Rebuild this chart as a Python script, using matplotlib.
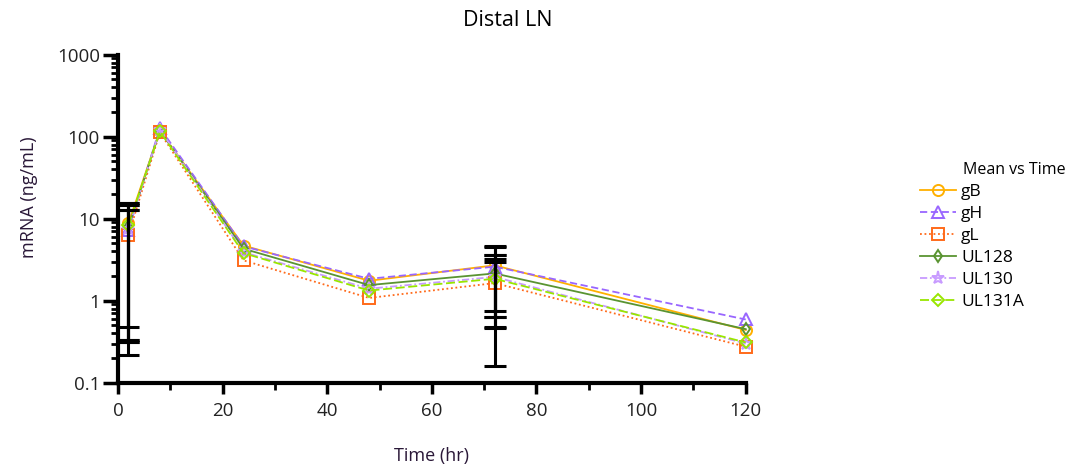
import numpy as np
import matplotlib
matplotlib.use("Agg")
import matplotlib.pyplot as plt
from matplotlib.ticker import FuncFormatter, MultipleLocator

plt.rcParams['font.family'] = ['Open Sans', 'DejaVu Sans']

time = [2, 8, 24, 48, 72, 120]
series = ["gB", "gH", "gL", "UL128", "UL130", "UL131A"]

gB = [8.8, 118, 4.7, 1.75, 2.7, 0.44]
gH = [7.2, 128, 4.6, 1.85, 2.6, 0.59]
gL = [6.3, 113, 3.1, 1.08, 1.64, 0.275]
UL128 = [7.9, 118, 4.3, 1.55, 2.15, 0.45]
UL130 = [7.5, 122, 3.9, 1.4, 1.95, 0.30]
UL131A = [8.3, 116, 3.8, 1.33, 1.85, 0.31]

# error bar limits (only at 2 h and 72 h)
err_time = [2, 72]
gB_lo, gB_hi = [0.48, 0.756], [15.5, 4.62]
gH_lo, gH_hi = [0.333, 0.64], [12.9, 4.55]
gL_lo, gL_hi = [0.219, 0.158], [12.9, 2.98]
UL128_lo, UL128_hi = [0.315, 0.64], [14.6, 3.59]
UL130_lo, UL130_hi = [0.315, 0.48], [14.6, 3.59]
UL131A_lo, UL131A_hi = [0.333, 0.466], [15.5, 3.21]

means = [gB, gH, gL, UL128, UL130, UL131A]
lows = [gB_lo, gH_lo, gL_lo, UL128_lo, UL130_lo, UL131A_lo]
highs = [gB_hi, gH_hi, gL_hi, UL128_hi, UL130_hi, UL131A_hi]

colors = ["#FFB000", "#9966FF", "#FF6A1A", "#5A9432", "#C89BFF", "#99E600"]
styles = ["-", (0, (4, 2)), (0, (1, 1.5)), "-", (0, (4, 1.5, 1, 1.5)), (0, (5, 2))]
markers = ["o", "^", "s", "d", "*", "D"]
msizes = [8, 8, 8, 6, 9.5, 6]

fig = plt.figure(figsize=(10.73, 4.70), dpi=100)
ax = fig.add_axes([0.110, 0.1857, 0.585, 0.698])
ax.set_yscale("log")

handles = []
for name, m, c, ls, mk, ms in zip(series, means, colors, styles, markers, msizes):
    h, = ax.plot(time, m, color=c, linestyle=ls, linewidth=1.3, marker=mk,
                 markersize=ms, markerfacecolor="none", markeredgecolor=c,
                 markeredgewidth=1.4, label=name, clip_on=False, zorder=2)
    handles.append(h)

for m, lo, hi in zip(means, lows, highs):
    mv = np.array([m[time.index(t)] for t in err_time])
    yerr = [mv - np.array(lo), np.array(hi) - mv]
    ax.errorbar(err_time, mv, yerr=yerr, fmt="none", ecolor="black",
                elinewidth=2.2, capsize=8, capthick=2.2, zorder=3, clip_on=False)

ax.set_xlim(0, 120)
ax.set_ylim(0.1, 1000)
ax.xaxis.set_major_locator(MultipleLocator(20))
ax.xaxis.set_minor_locator(MultipleLocator(10))
ax.yaxis.set_major_formatter(FuncFormatter(lambda v, p: "%g" % v))

for s in ["top", "right"]:
    ax.spines[s].set_visible(False)
for s in ["left", "bottom"]:
    ax.spines[s].set_linewidth(3)
ax.tick_params(axis="both", which="major", length=11, width=2.5, labelsize=13.5,
               colors="black", labelcolor="#222222")
ax.tick_params(axis="both", which="minor", length=5, width=2)
ax.tick_params(axis="x", which="major", length=8, pad=6)
ax.tick_params(axis="y", which="major", pad=2)

fig.text(508 / 1073, 1 - 20 / 470, "Distal LN", fontsize=15.5, ha="center", va="center")
ax.set_xlabel("Time (hr)", fontsize=13, color="#2a1838")
ax.xaxis.set_label_coords(0.5, -0.195)
ax.set_ylabel("mRNA (ng/mL)", fontsize=13, color="#2a1838")
ax.yaxis.set_label_coords(-0.128, 0.566)

fig.text(963 / 1073, 1 - 170 / 470, "Mean vs Time", fontsize=11.5, va="center", ha="left")
fig.legend(handles=handles, loc="upper left", bbox_to_anchor=(0.857, 0.608),
           frameon=False, fontsize=12.5, handlelength=2.1, handletextpad=0.3,
           labelspacing=0.33, borderpad=0, borderaxespad=0)

fig.savefig("out.png", dpi=100)
